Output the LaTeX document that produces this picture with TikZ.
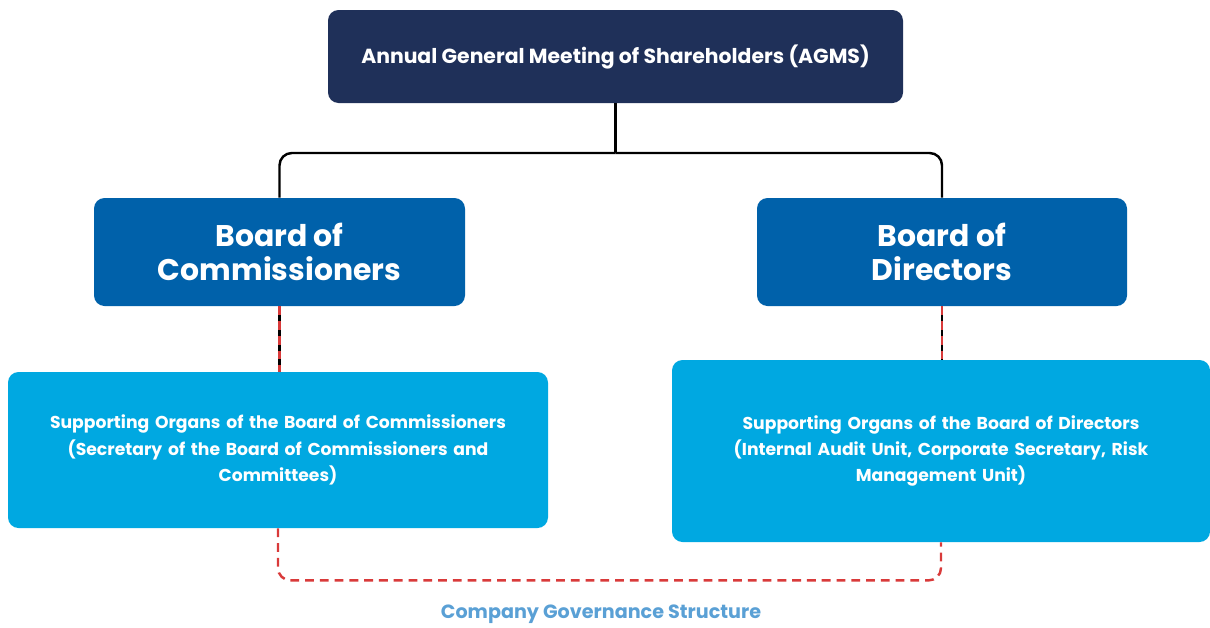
\documentclass[tikz,border=0pt]{standalone}
\usepackage{fontspec}
\setmainfont{Poppins}
\usepackage{xcolor}
\usetikzlibrary{positioning,calc}
\definecolor{navycolor}{RGB}{31,48,89}
\definecolor{boardcolor}{RGB}{0,97,170}
\definecolor{organcolor}{RGB}{0,168,225}
\definecolor{captioncolor}{RGB}{90,160,213}
\definecolor{dashcolor}{RGB}{217,58,58}

\begin{document}
\begin{tikzpicture}[x=0.02cm,y=0.02cm,box/.style={rounded corners=6pt,align=center,text=white,font=\bfseries,inner sep=0pt},link/.style={line width=1.4pt,black},dashlink/.style={line width=1.4pt,dashcolor,dash pattern=on 5pt off 3.4pt}]
\useasboundingbox (0,0) rectangle (1210,-627);
\node[box,fill=navycolor,minimum width=575*0.02cm,minimum height=93*0.02cm,font=\bfseries\fontsize{11.6}{13}\selectfont](agms) at (615.5,-56.5){Annual General Meeting of Shareholders (AGMS)};
\node[box,fill=boardcolor,minimum width=371*0.02cm,minimum height=108*0.02cm,font=\bfseries\fontsize{17}{19}\selectfont](boc) at (279.5,-252){Board of\\Commissioners};
\node[box,fill=boardcolor,minimum width=370*0.02cm,minimum height=108*0.02cm,font=\bfseries\fontsize{17}{19}\selectfont](bod) at (942,-252){Board of\\Directors};
\node[box,fill=organcolor,minimum width=540*0.02cm,minimum height=156*0.02cm,text width=500*0.02cm,font=\bfseries\fontsize{9.8}{14.9}\selectfont](soc) at (278,-450){Supporting Organs of the Board of Commissioners\\(Secretary of the Board of Commissioners and\\Committees)};
\node[box,fill=organcolor,minimum width=538*0.02cm,minimum height=182*0.02cm,text width=500*0.02cm,font=\bfseries\fontsize{9.8}{14.9}\selectfont](sod) at (941,-451){Supporting Organs of the Board of Directors\\(Internal Audit Unit, Corporate Secretary, Risk\\Management Unit)};
\node[text=captioncolor,font=\bfseries\fontsize{10.9}{12}\selectfont](cap) at (601,-614){Company Governance Structure};
\coordinate (fork) at (agms.south |- 0,-153);
\draw[link](agms.south)--(fork); \draw[link,rounded corners=7pt](fork)-|(boc.north); \draw[link,rounded corners=7pt](fork)-|(bod.north);
\draw[link](boc.south)--(boc.south |- soc.north); \draw[dashlink](boc.south)--(boc.south |- soc.north);
\draw[link](bod.south)--(bod.south |- sod.north); \draw[dashlink](bod.south)--(bod.south |- sod.north);
\draw[dashlink,rounded corners=7pt](soc.south)--($(soc.south)+(0,-52)$)-|(sod.south);
\end{tikzpicture}
\end{document}
